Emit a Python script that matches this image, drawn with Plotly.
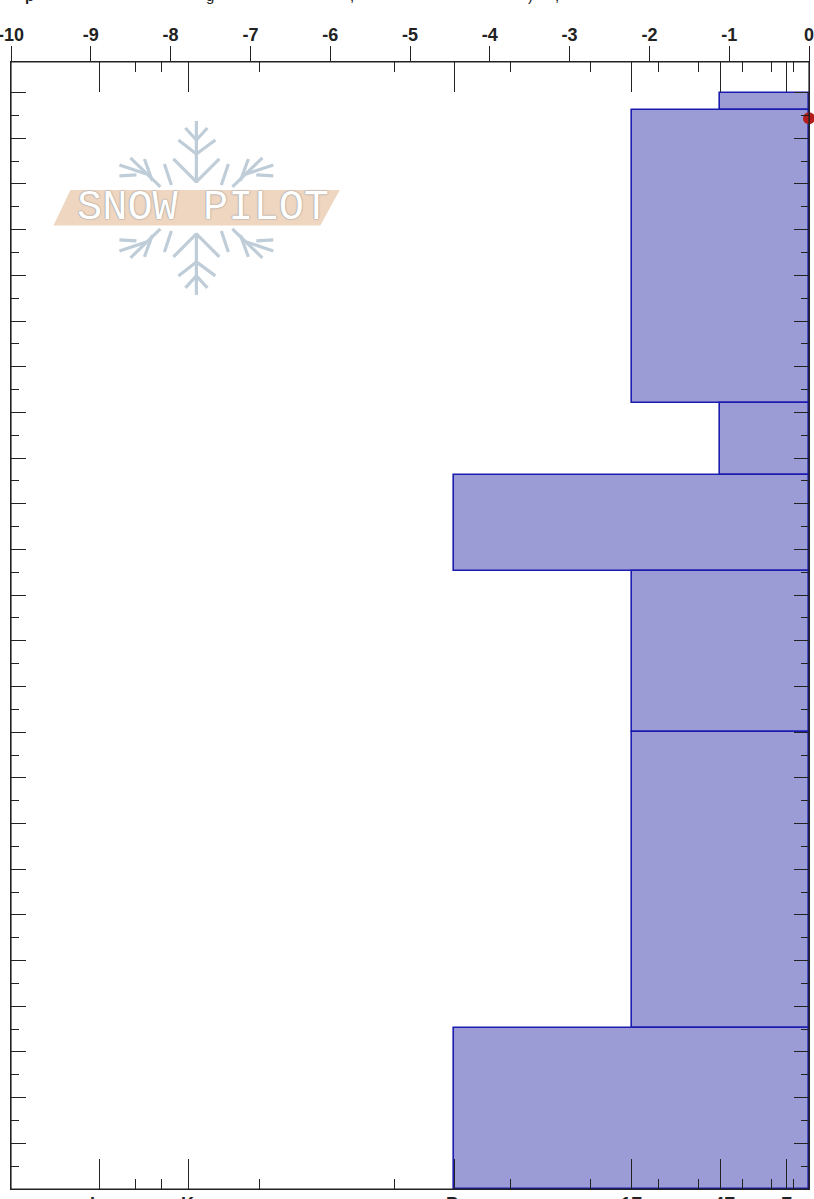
import plotly.graph_objects as go

# Data: snow layers, heights in cm above ground, hardness on a 0-9 scale
layer_top = [240.0, 236.3, 172.0, 156.2, 135.2, 100.0, 35.2]
layer_bottom = [236.3, 172.0, 156.2, 135.2, 100.0, 35.2, 0.0]
layer_hardness = [1, 2, 1, 4, 2, 2, 4]
temp_height = [234.4]
temp_value = [0.0]
temp_ticks = [-10, -9, -8, -7, -6, -5, -4, -3, -2, -1, 0]
temp_labels = ["-10", "-9", "-8", "-7", "-6", "-5", "-4", "-3", "-2", "-1", "0"]
hard_major = [8, 7, 4, 2, 1, 0.25]
hard_minor = [9, 7.6, 7.3, 6.2, 4.67, 3.37, 2.46, 1.7, 1.25, 0.75, 0.42, 0.17]
hard_labels = ["I", "K", "P", "1F", "4F", "F"]
hard_label_shift = [-7, -1, -2, 0, 4, 0]
depth_major = list(range(10, 250, 10))
depth_minor = list(range(5, 240, 10))
title_fragments = ["p", "g", ",", ")", ","]
title_fragment_x = [29, 210, 352, 530, 557]

W, H = 814, 1199
L, R, T, B = 10.5, 5, 61.5, 10
PW, PH = W - L - R, H - T - B
def px(x): return (x - L) / PW
def py(y): return 1 - (y - T) / PH

INK = "#222222"
FILL = "#9B9BD6"
EDGE = "#1C1CB0"
BOLD = dict(family="Liberation Sans", size=18, color="#222222", weight="bold")

fig = go.Figure()
fig.add_trace(go.Bar(
    orientation="h",
    x=layer_hardness,
    y=[(a + b) / 2 for a, b in zip(layer_top, layer_bottom)],
    width=[a - b for a, b in zip(layer_top, layer_bottom)],
    xaxis="x", yaxis="y",
    marker=dict(color=FILL, line=dict(color=EDGE, width=1.6)),
    showlegend=False,
))
fig.add_trace(go.Scatter(
    x=temp_value, y=temp_height, mode="markers", xaxis="x2", yaxis="y",
    marker=dict(color="#B51C1C", size=12), cliponaxis=False, showlegend=False,
))

# Logo (decoration, placed in page pixels)
shapes = []
cx, cy = 196.0, 207.5
segs = [
    (0, -87, 0, -25),
    (-11, -80, 0, -68), (0, -68, 11, -80),
    (-18, -68, 0, -54), (0, -54, 19, -68),
    (-23, -49, 0, -26), (0, -26, 23, -49),
]
side = [
    (-66, -50, -36, -21), (-77, -43, -50, -34), (-77, -32, -60, -33),
    (-52, -49, -44, -27), (-32, -44, -25, -23),
]
for x0, y0, x1, y1 in segs + side:
    for sy in (1, -1):
        shapes.append(dict(type="line", xref="paper", yref="paper", layer="below",
                           x0=px(cx + x0), y0=py(cy + sy * y0), x1=px(cx + x1), y1=py(cy + sy * y1),
                           line=dict(color="#BFCDD8", width=3.2)))
for x0, y0, x1, y1 in side:
    for sy in (1, -1):
        shapes.append(dict(type="line", xref="paper", yref="paper", layer="below",
                           x0=px(cx - x0), y0=py(cy + sy * y0), x1=px(cx - x1), y1=py(cy + sy * y1),
                           line=dict(color="#BFCDD8", width=3.2)))
para = [(70, 189.5), (339.5, 189.5), (320, 225), (53, 225)]
path = "M " + " L ".join(f"{px(a):.5f} {py(b):.5f}" for a, b in para) + " Z"
shapes.append(dict(type="path", xref="paper", yref="paper", layer="below", path=path,
                   fillcolor="#EFD6C0", line=dict(width=0)))
# Plot frame above the bars
shapes.append(dict(type="rect", xref="paper", yref="paper", layer="above",
                   x0=0, x1=1, y0=0, y1=1, line=dict(color=INK, width=1.2)))

annotations = [
    dict(text="SNOW PILOT", xref="paper", yref="paper", x=px(202.5), y=py(207.5), showarrow=False,
         xanchor="center", yanchor="middle",
         font=dict(family="Liberation Mono", size=42, color="#FFFFFF",
                   shadow="0 0 1.5px #9a9a9a, 0 0 1.5px #9a9a9a")),
]
for v, t, s in zip(hard_major, hard_labels, hard_label_shift):
    annotations.append(dict(text=t, xref="x", yref="paper", x=v, y=py(1192), showarrow=False,
                            xshift=s, xanchor="center", yanchor="top", font=BOLD))
for t, x in zip(title_fragments, title_fragment_x):
    annotations.append(dict(text=t, xref="paper", yref="paper", x=px(x), y=py(5), showarrow=False,
                            xanchor="center", yanchor="bottom",
                            font=dict(family="Liberation Sans", size=15, color="#222222",
                                      weight="bold" if x < 100 else "normal")))

fig.update_layout(
    width=W, height=H, margin=dict(l=L, r=R, t=T, b=B, pad=0, autoexpand=False),
    paper_bgcolor="white", plot_bgcolor="white",
    shapes=shapes, annotations=annotations, bargap=0,
    xaxis=dict(range=[9, 0], side="bottom", anchor="y",
               tickvals=hard_major, ticks="inside", ticklen=30, tickwidth=1.4, tickcolor=INK,
               showticklabels=False, showgrid=False, zeroline=False,
               showline=True, linecolor=INK, linewidth=1.2, mirror="ticks",
               minor=dict(tickvals=hard_minor, ticks="inside", ticklen=10, tickwidth=1.4,
                          tickcolor=INK, showgrid=False)),
    xaxis2=dict(range=[-10, 0], side="top", anchor="y", overlaying="x",
                tickvals=temp_ticks, ticktext=temp_labels,
                ticks="outside", ticklen=15, tickwidth=1.4, tickcolor=INK,
                tickfont=BOLD, ticklabeloverflow="allow", ticklabelstandoff=-2,
                showgrid=False, zeroline=False,
                showline=True, linecolor=INK, linewidth=1.2),
    yaxis=dict(range=[0, 246.7], anchor="x", side="left",
               tickvals=depth_major, ticks="inside", ticklen=15, tickwidth=1.4, tickcolor=INK,
               showticklabels=False, showgrid=False, zeroline=False,
               showline=True, linecolor=INK, linewidth=1.2, mirror="ticks",
               minor=dict(tickvals=depth_minor, ticks="inside", ticklen=8, tickwidth=1.4,
                          tickcolor=INK, showgrid=False)),
)
fig.write_html("out.html", config=dict(displayModeBar=False),
               post_script="document.body.style.margin='0';document.body.style.overflow='hidden';")
